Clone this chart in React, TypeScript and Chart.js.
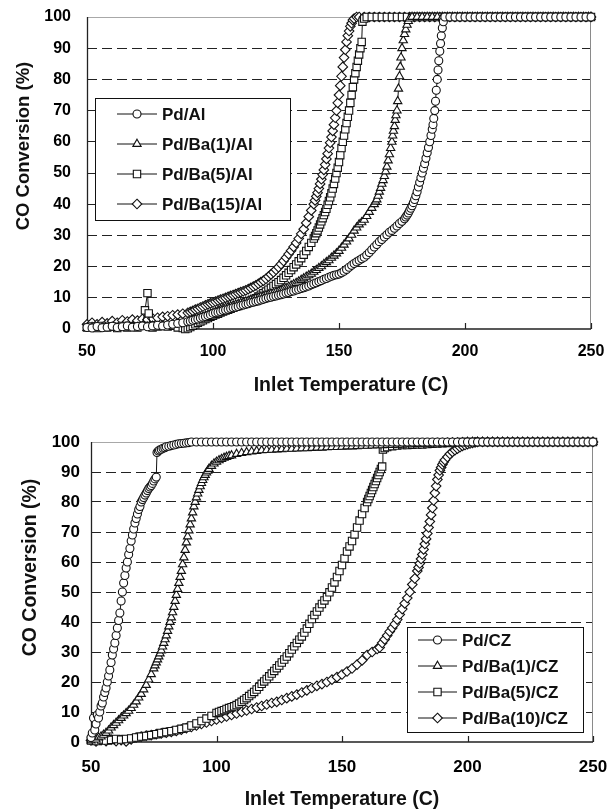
import React, { useEffect, useRef } from "react";
import { Chart, registerables } from "chart.js";

Chart.register(...registerables);

const FONT = "'Liberation Sans', Arial, Helvetica, sans-serif";

type Pt = [number, number];

// ---------- axis / label data ----------
const X_MIN = 50;
const X_MAX = 250;
const X_STEP = 50;
const Y_MIN = 0;
const Y_MAX = 100;
const Y_STEP = 10;
const Y_TITLE = "CO Conversion (%)";
const X_TITLE = "Inlet Temperature (C)";

const alLabels = ["Pd/Al", "Pd/Ba(1)/Al", "Pd/Ba(5)/Al", "Pd/Ba(15)/Al"];
const czLabels = ["Pd/CZ", "Pd/Ba(1)/CZ", "Pd/Ba(5)/CZ", "Pd/Ba(10)/CZ"];

// ---------- top panel: alumina supports ----------
const pdAl: Pt[] = [
  [50, 0.5], [52, 0.3], [54, 0.8], [56, 0.4], [58, 0.6], [60, 0.9], [62, 0.5], [64, 0.7], [66, 1], [68, 0.6],
  [70, 0.8], [72, 1], [74, 0.7], [76, 1], [78, 1.2], [80, 1], [82, 1.3], [84, 1.5], [86, 1.8], [88, 2],
  [90, 2.3], [91, 2.5], [92, 2.8], [93, 3], [94, 3.2], [95, 3.5], [96, 3.8], [97, 4], [98, 4.3], [99, 4.6],
  [100, 5], [101, 5.2], [102, 5.4], [103, 5.6], [104, 5.9], [105, 6.1], [106, 6.3], [107, 6.6], [108, 6.8], [109, 7],
  [110, 7.2], [111, 7.5], [112, 7.7], [113, 7.9], [114, 8.1], [115, 8.4], [116, 8.6], [117, 8.8], [118, 9], [119, 9.3],
  [120, 9.5], [121, 9.8], [122, 10], [123, 10.2], [124, 10.4], [125, 10.6], [126, 10.8], [127, 11], [128, 11.2], [129, 11.5],
  [130, 11.7], [131, 12], [132, 12.2], [133, 12.5], [134, 12.7], [135, 13], [136, 13.2], [137, 13.5], [138, 13.8], [139, 14.2],
  [140, 14.5], [141, 14.8], [142, 15.2], [143, 15.5], [144, 15.9], [145, 16.2], [146, 16.6], [147, 16.9], [148, 17.2], [149, 17.4],
  [150, 17.6], [151, 18], [152, 18.5], [153, 19.1], [154, 19.8], [155, 20.4], [156, 21], [157, 21.5], [158, 22], [159, 22.5],
  [160, 23], [161, 23.7], [162, 24.5], [163, 25.4], [164, 26.3], [165, 27.1], [166, 28], [167, 28.7], [168, 29.5], [169, 30.2],
  [170, 31], [171, 31.6], [172, 32.3], [173, 33], [174, 33.8], [175, 34.5], [176, 35.3], [176.5, 35.9], [177, 36.5], [177.5, 37.2],
  [178, 38], [178.5, 38.7], [179, 39.5], [179.5, 40.5], [180, 41.5], [180.5, 42.7], [181, 44], [181.5, 45.5], [182, 47], [182.5, 48.5],
  [183, 50], [183.5, 51.5], [184, 53], [184.5, 54.7], [185, 56.5], [185.5, 58.2], [186, 60], [186.5, 62], [187, 64], [187.3, 65.5],
  [187.6, 67.5], [188, 70], [188.3, 73], [188.6, 76.5], [189, 80], [189.3, 83], [189.6, 86], [190, 89], [190.3, 91.5], [190.6, 94],
  [191, 96.5], [191.4, 98.5], [192, 100], [194, 100], [196, 100], [198, 100], [200, 100], [202, 100], [204, 100], [206, 100],
  [208, 100], [210, 100], [212, 100], [214, 100], [216, 100], [218, 100], [220, 100], [222, 100], [224, 100], [226, 100],
  [228, 100], [230, 100], [232, 100], [234, 100], [236, 100], [238, 100], [240, 100], [242, 100], [244, 100], [246, 100],
  [248, 100], [250, 100],
];

const pdBa1Al: Pt[] = [
  [50, 0.3], [52, 0.6], [54, 0.2], [56, 0.5], [58, 0.3], [60, 0.6], [62, 0.4], [64, 0.7], [66, 0.5], [68, 0.8],
  [70, 0.6], [72, 0.9], [74, 0.7], [76, 1], [78, 0.8], [80, 1.1], [82, 1], [84, 1.3], [86, 1.5], [88, 1.8],
  [90, 2.2], [91, 2.5], [92, 2.8], [93, 3.1], [94, 3.3], [95, 3.6], [96, 3.9], [97, 4.2], [98, 4.5], [99, 4.8],
  [100, 5.1], [101, 5.5], [102, 5.8], [103, 6.2], [104, 6.5], [105, 6.8], [106, 7], [107, 7.3], [108, 7.5], [109, 7.8],
  [110, 8], [111, 8.3], [112, 8.5], [113, 8.8], [114, 9], [115, 9.3], [116, 9.5], [117, 9.8], [118, 10], [119, 10.3],
  [120, 10.5], [121, 10.8], [122, 11], [123, 11.3], [124, 11.5], [125, 11.8], [126, 12], [127, 12.4], [128, 12.8], [129, 13.1],
  [130, 13.5], [131, 13.9], [132, 14.3], [133, 14.7], [134, 15.2], [135, 15.7], [136, 16.2], [137, 16.7], [138, 17.2], [139, 17.7],
  [140, 18.3], [141, 18.9], [142, 19.5], [143, 20.1], [144, 20.8], [145, 21.4], [146, 22], [147, 22.8], [148, 23.5], [149, 24.2],
  [150, 25], [151, 26], [152, 27], [153, 28], [154, 29], [155, 30.2], [156, 31.5], [157, 32.5], [158, 33.5], [159, 34.2],
  [160, 35], [161, 36.2], [162, 37.5], [163, 38.8], [164, 40], [164.5, 40.8], [165, 41.5], [165.5, 42.7], [166, 44], [166.5, 45.2],
  [167, 46.5], [167.5, 47.7], [168, 49], [168.5, 50.5], [169, 52], [169.5, 54], [170, 56], [170.5, 58], [171, 60], [171.3, 62],
  [171.6, 63.5], [172, 65], [172.3, 67], [172.6, 68.5], [173, 70], [173.3, 73], [173.6, 77], [174, 81], [174.3, 84], [174.6, 87],
  [175, 90], [175.5, 92.5], [176, 94.5], [176.5, 96], [177, 97.5], [177.5, 98.7], [178, 99.5], [179, 100], [181, 100], [183, 100],
  [185, 100], [187, 100], [189, 100], [191, 100], [193, 100], [195, 100], [197, 100], [199, 100], [201, 100], [203, 100],
  [205, 100], [207, 100], [209, 100], [211, 100], [213, 100], [215, 100], [217, 100], [219, 100], [221, 100], [223, 100],
  [225, 100], [227, 100], [229, 100], [231, 100], [233, 100], [235, 100], [237, 100], [239, 100], [241, 100], [243, 100],
  [245, 100], [247, 100], [249, 100], [250, 100],
];

const pdBa5Al: Pt[] = [
  [50, 0.5], [52, 0.8], [54, 0.3], [56, 1], [58, 0.5], [60, 0.8], [62, 0.3], [64, 1], [66, 0.5], [68, 0.8],
  [70, 0.5], [72, 1], [73, 6], [74, 11.5], [74.5, 5], [75, 1], [76, 0.5], [78, 0.8], [80, 1], [82, 0.8],
  [84, 1], [86, 0.5], [88, 0.3], [89, 0], [90, 0.2], [91, 0.6], [92, 1], [93, 1.5], [94, 2], [95, 2.4],
  [96, 2.8], [97, 3.2], [98, 3.5], [99, 3.9], [100, 4.2], [101, 4.6], [102, 4.9], [103, 5.3], [104, 5.6], [105, 5.9],
  [106, 6.2], [107, 6.5], [108, 6.8], [109, 7.1], [110, 7.4], [111, 7.7], [112, 8], [113, 8.3], [114, 8.7], [115, 9],
  [116, 9.4], [117, 9.9], [118, 10.4], [119, 11], [120, 11.5], [121, 12], [122, 12.6], [123, 13.2], [124, 13.8], [125, 14.4],
  [126, 15], [127, 15.7], [128, 16.4], [129, 17.2], [130, 18], [131, 18.9], [132, 19.8], [133, 20.7], [134, 21.7], [135, 22.7],
  [136, 23.8], [137, 25], [138, 26.3], [139, 27.6], [140, 29], [140.5, 29.8], [141, 30.7], [141.5, 31.6], [142, 32.5], [142.5, 33.5],
  [143, 34.5], [143.5, 35.5], [144, 36.5], [144.5, 37.5], [145, 38.5], [145.5, 39.8], [146, 41], [146.5, 42.2], [147, 43.5], [147.5, 45],
  [148, 46.5], [148.5, 48.2], [149, 50], [149.5, 51.7], [150, 53.5], [150.5, 55.7], [151, 58], [151.5, 60], [152, 62], [152.5, 64],
  [153, 66], [153.5, 68], [154, 70], [154.5, 72.5], [155, 75], [155.5, 77.5], [156, 80], [156.5, 82], [157, 84], [157.5, 86],
  [158, 88], [158.5, 90], [159, 92], [159.3, 98.5], [160, 99.5], [161, 100], [163, 100], [165, 100], [167, 100], [169, 100],
  [171, 100], [173, 100], [175, 100], [177, 100], [179, 100], [181, 100], [183, 100], [185, 100], [187, 100], [189, 100],
  [191, 100], [193, 100], [195, 100], [197, 100], [199, 100], [201, 100], [203, 100], [205, 100], [207, 100], [209, 100],
  [211, 100], [213, 100], [215, 100], [217, 100], [219, 100], [221, 100], [223, 100], [225, 100], [227, 100], [229, 100],
  [231, 100], [233, 100], [235, 100], [237, 100], [239, 100], [241, 100], [243, 100], [245, 100], [247, 100], [249, 100],
  [250, 100],
];

const pdBa15Al: Pt[] = [
  [50, 1.5], [52, 2], [54, 1.5], [56, 2.2], [58, 1.8], [60, 2.5], [62, 2], [64, 2.8], [66, 2.4], [68, 3],
  [70, 2.7], [72, 3.2], [74, 3], [76, 3.4], [78, 3.6], [80, 3.9], [82, 4.1], [84, 4.4], [86, 4.6], [88, 4.9],
  [90, 5.2], [91, 5.5], [92, 5.8], [93, 6.2], [94, 6.5], [95, 6.9], [96, 7.2], [97, 7.6], [98, 7.9], [99, 8.2],
  [100, 8.5], [101, 8.8], [102, 9.1], [103, 9.4], [104, 9.7], [105, 10], [106, 10.3], [107, 10.6], [108, 10.9], [109, 11.2],
  [110, 11.5], [111, 11.8], [112, 12.1], [113, 12.4], [114, 12.8], [115, 13.2], [116, 13.6], [117, 14], [118, 14.5], [119, 15],
  [120, 15.5], [121, 16.1], [122, 16.8], [123, 17.5], [124, 18.2], [125, 19], [126, 19.8], [127, 20.8], [128, 21.8], [129, 22.9],
  [130, 24], [131, 25.1], [132, 26.3], [133, 27.6], [134, 29], [135, 30.5], [136, 32], [137, 34], [138, 36], [139, 38],
  [140, 40], [140.5, 41.2], [141, 42.5], [141.5, 43.7], [142, 45], [142.5, 46.5], [143, 48], [143.5, 49.5], [144, 51], [144.5, 52.7],
  [145, 54.5], [145.5, 56.2], [146, 58], [146.5, 59.7], [147, 61.5], [147.5, 63.5], [148, 65.5], [148.5, 67.7], [149, 70], [149.5, 72.5],
  [150, 75], [150.5, 78], [151, 81], [151.5, 84], [152, 87], [152.5, 89.5], [153, 92], [153.5, 94], [154, 95.5], [154.5, 97],
  [155, 98], [155.5, 99], [156, 99.5], [157, 100], [158, 100], [160, 100], [162, 100], [164, 100], [166, 100], [168, 100],
  [170, 100], [172, 100], [174, 100], [176, 100], [178, 100], [180, 100], [182, 100], [184, 100], [186, 100], [188, 100],
  [190, 100], [192, 100], [194, 100], [196, 100], [198, 100], [200, 100], [202, 100], [204, 100], [206, 100], [208, 100],
  [210, 100], [212, 100], [214, 100], [216, 100], [218, 100], [220, 100], [222, 100], [224, 100], [226, 100], [228, 100],
  [230, 100], [232, 100], [234, 100], [236, 100], [238, 100], [240, 100], [242, 100], [244, 100], [246, 100], [248, 100],
  [250, 100],
];

// ---------- bottom panel: ceria-zirconia supports ----------
const pdCZ: Pt[] = [
  [50, 1.5], [50.5, 3], [51, 8], [51.5, 4], [52, 6], [52.5, 9], [53, 8], [53.5, 10], [54, 12], [54.5, 13],
  [55, 15], [55.5, 16.5], [56, 18], [56.5, 20], [57, 22], [57.5, 24], [58, 26.5], [58.5, 29], [59, 31], [59.5, 33],
  [60, 35.5], [60.5, 38], [61, 40.5], [61.5, 43], [62, 47], [62.5, 50], [63, 53], [63.5, 55.5], [64, 58], [64.5, 60],
  [65, 62.5], [65.5, 64.5], [66, 67], [66.5, 69], [67, 71], [67.5, 73], [68, 74.5], [68.5, 76], [69, 77.5], [69.5, 78.5],
  [70, 80], [70.5, 80.8], [71, 81.5], [71.5, 82.3], [72, 83], [72.5, 83.8], [73, 84.5], [73.5, 85], [74, 85.5], [74.5, 86.2],
  [75, 87], [75.5, 87.7], [76, 88.3], [76.3, 96.5], [76.8, 97], [77.3, 97.3], [78, 97.6], [78.7, 97.9], [79.4, 98.1], [80, 98.4],
  [81, 98.6], [82, 98.8], [83, 99], [84, 99.2], [85, 99.4], [86, 99.5], [87, 99.6], [88, 99.7], [89, 99.8], [90, 100],
  [92, 100], [94, 100], [96, 100], [98, 100], [100, 100], [102, 100], [104, 100], [106, 100], [108, 100], [110, 100],
  [112, 100], [114, 100], [116, 100], [118, 100], [120, 100], [122, 100], [124, 100], [126, 100], [128, 100], [130, 100],
  [132, 100], [134, 100], [136, 100], [138, 100], [140, 100], [142, 100], [144, 100], [146, 100], [148, 100], [150, 100],
  [152, 100], [154, 100], [156, 100], [158, 100], [160, 100], [162, 100], [164, 100], [166, 100], [168, 100], [170, 100],
  [172, 100], [174, 100], [176, 100], [178, 100], [180, 100], [182, 100], [184, 100], [186, 100], [188, 100], [190, 100],
  [192, 100], [194, 100], [196, 100], [198, 100], [200, 100], [202, 100], [204, 100], [206, 100], [208, 100], [210, 100],
  [212, 100], [214, 100], [216, 100], [218, 100], [220, 100], [222, 100], [224, 100], [226, 100], [228, 100], [230, 100],
  [232, 100], [234, 100], [236, 100], [238, 100], [240, 100], [242, 100], [244, 100], [246, 100], [248, 100], [250, 100],
];

const pdBa1CZ: Pt[] = [
  [50, 0.5], [51, 1], [52, 0.8], [53, 1.5], [54, 1.8], [55, 2.4], [56, 3], [57, 3.8], [58, 4.8], [59, 5.6],
  [60, 6.4], [61, 7.2], [62, 8], [63, 8.8], [64, 9.6], [65, 10.4], [66, 11.3], [67, 12.4], [68, 13.5], [69, 14.8],
  [70, 16], [71, 17.5], [72, 19], [73, 20.8], [74, 22.6], [75, 24.5], [75.5, 25.5], [76, 26.5], [76.5, 27.5], [77, 28.5],
  [77.5, 29.5], [78, 30.5], [78.5, 31.8], [79, 33], [79.5, 34.2], [80, 35.5], [80.5, 37], [81, 38.5], [81.5, 40], [82, 41.5],
  [82.5, 43.2], [83, 45], [83.5, 47], [84, 49], [84.5, 51], [85, 53], [85.5, 55], [86, 57], [86.5, 59.2], [87, 61.5],
  [87.5, 64], [88, 66.5], [88.5, 68.5], [89, 70.5], [89.5, 72.5], [90, 74.5], [90.5, 76.5], [91, 78.5], [91.5, 80], [92, 81.5],
  [92.5, 82.8], [93, 84], [93.5, 85.2], [94, 86.3], [94.5, 87.3], [95, 88.2], [95.5, 89], [96, 89.8], [96.5, 90.4], [97, 91],
  [98, 92], [99, 92.8], [100, 93.4], [101, 93.9], [102, 94.3], [103, 94.7], [104, 95], [105, 95.3], [106, 95.5], [108, 96],
  [110, 96.3], [112, 96.6], [114, 96.8], [116, 97], [118, 97.2], [120, 97.3], [122, 97.4], [124, 97.5], [126, 97.6], [128, 97.7],
  [130, 97.7], [132, 97.8], [134, 97.9], [136, 97.9], [138, 98], [140, 98.1], [142, 98.1], [144, 98.2], [146, 98.3], [148, 98.3],
  [150, 98.4], [152, 98.5], [154, 98.5], [156, 98.6], [158, 98.7], [160, 98.7], [162, 98.8], [164, 98.9], [166, 98.9], [168, 99],
  [170, 99], [172, 99.1], [174, 99.1], [176, 99.2], [178, 99.2], [180, 99.3], [182, 99.4], [184, 99.4], [186, 99.5], [188, 99.6],
  [190, 99.6], [192, 99.7], [194, 99.8], [196, 99.8], [198, 99.9], [200, 100], [202, 100], [204, 100], [206, 100], [208, 100],
  [210, 100], [212, 100], [214, 100], [216, 100], [218, 100], [220, 100], [222, 100], [224, 100], [226, 100], [228, 100],
  [230, 100], [232, 100], [234, 100], [236, 100], [238, 100], [240, 100], [242, 100], [244, 100], [246, 100], [248, 100],
  [250, 100],
];

const pdBa5CZ: Pt[] = [
  [50, 0.5], [52, 0.3], [54, 0.8], [56, 0.5], [58, 0.7], [60, 1], [62, 0.8], [64, 1], [66, 1.2], [68, 1.5],
  [70, 1.8], [72, 2], [74, 2.3], [76, 2.6], [78, 3], [80, 3.3], [82, 3.6], [84, 4], [86, 4.4], [88, 4.8],
  [90, 5.5], [92, 6.2], [94, 7], [96, 7.8], [98, 8.7], [100, 9.7], [101, 10], [102, 10.3], [103, 10.6], [104, 11],
  [105, 11.3], [106, 11.6], [107, 11.9], [108, 12.3], [109, 12.8], [110, 13.4], [111, 14], [112, 14.6], [113, 15.3], [114, 16],
  [115, 16.7], [116, 17.5], [117, 18.4], [118, 19.4], [119, 20.2], [120, 21], [121, 21.9], [122, 22.8], [123, 23.7], [124, 24.6],
  [125, 25.5], [126, 26.5], [127, 27.5], [128, 28.5], [129, 29.6], [130, 30.8], [131, 31.9], [132, 33], [133, 34.1], [134, 35.2],
  [135, 36.5], [136, 37.8], [137, 39.4], [138, 41], [139, 42.3], [140, 43.5], [141, 44.8], [142, 46], [143, 47.2], [144, 48.3],
  [145, 49.9], [146, 51.5], [147, 53.2], [148, 55], [149, 57], [150, 59], [151, 61.2], [152, 63.5], [153, 65.2], [154, 67],
  [155, 69.2], [156, 71.5], [157, 73.8], [158, 76], [159, 78], [160, 80], [160.5, 81], [161, 82], [161.5, 83], [162, 84],
  [162.5, 85], [163, 86], [163.5, 87], [164, 88], [164.5, 89], [165, 90], [165.5, 91], [166, 91.8], [166.3, 97.5], [167, 98],
  [168, 98.3], [170, 98.6], [172, 98.8], [174, 99], [176, 99], [178, 99.1], [180, 99.2], [182, 99.2], [184, 99.3], [186, 99.4],
  [188, 99.5], [190, 99.6], [192, 99.7], [194, 99.8], [196, 99.9], [198, 100], [200, 100], [202, 100], [204, 100], [206, 100],
  [208, 100], [210, 100], [212, 100], [214, 100], [216, 100], [218, 100], [220, 100], [222, 100], [224, 100], [226, 100],
  [228, 100], [230, 100], [232, 100], [234, 100], [236, 100], [238, 100], [240, 100], [242, 100], [244, 100], [246, 100],
  [248, 100], [250, 100],
];

const pdBa10CZ: Pt[] = [
  [50, 0.5], [52, 0.2], [54, 0.6], [56, 0.3], [58, 0.8], [60, 0.3], [62, 0.6], [64, 0.2], [66, 0.9], [68, 1.5],
  [70, 1.8], [72, 2.1], [74, 2.3], [76, 2.6], [78, 2.9], [80, 3.1], [82, 3.4], [84, 3.7], [86, 4.1], [88, 4.6],
  [90, 5], [92, 5.5], [94, 6], [96, 6.5], [98, 7], [100, 7.5], [102, 8], [104, 8.5], [106, 9], [108, 9.5],
  [110, 10], [112, 10.5], [114, 11], [116, 11.5], [118, 12], [120, 12.5], [122, 13], [124, 13.4], [126, 14], [128, 14.6],
  [130, 15.2], [132, 15.8], [134, 16.5], [136, 17.2], [138, 18], [140, 18.7], [142, 19.3], [144, 20], [146, 20.8], [148, 21.6],
  [150, 22.5], [152, 23.5], [154, 24.5], [156, 25.8], [158, 27.2], [160, 29], [162, 30], [164, 31], [165, 31.5], [166, 33],
  [167, 34.2], [168, 35.5], [169, 36.8], [170, 38], [171, 39.3], [172, 40.8], [173, 42.5], [174, 44.3], [175, 46.2], [176, 48],
  [177, 50], [178, 52.5], [179, 54.5], [180, 57], [180.5, 58.2], [181, 59.5], [181.5, 61], [182, 62.5], [182.5, 64.2], [183, 66],
  [183.5, 67.7], [184, 69.5], [184.5, 71.5], [185, 73.5], [185.5, 75.7], [186, 78], [186.5, 80.5], [187, 83], [187.5, 85.3], [188, 87.5],
  [188.5, 89], [189, 90.5], [189.5, 91.5], [190, 92.5], [190.5, 93.3], [191, 94], [192, 95], [193, 96], [194, 96.7], [195, 97.3],
  [196, 97.8], [197, 98.3], [198, 98.7], [199, 99], [200, 99.3], [201, 99.5], [202, 99.7], [203, 99.9], [204, 100], [206, 100],
  [208, 100], [210, 100], [212, 100], [214, 100], [216, 100], [218, 100], [220, 100], [222, 100], [224, 100], [226, 100],
  [228, 100], [230, 100], [232, 100], [234, 100], [236, 100], [238, 100], [240, 100], [242, 100], [244, 100], [246, 100],
  [248, 100], [250, 100],
];

const alSeries = [pdAl, pdBa1Al, pdBa5Al, pdBa15Al];
const czSeries = [pdCZ, pdBa1CZ, pdBa5CZ, pdBa10CZ];

// ---------- styling ----------
const MARKER_STYLES = ["circle", "triangle", "rect", "rectRot"];
const MARKER_RADII = [4, 4.8, 5.2, 4.8];
const INK = "#111";

function drawMarker(ctx: CanvasRenderingContext2D, style: string, x: number, y: number, r: number) {
  ctx.beginPath();
  if (style === "circle") {
    ctx.arc(x, y, r, 0, Math.PI * 2);
  } else if (style === "triangle") {
    for (let i = 0; i < 3; i++) {
      const a = -Math.PI / 2 + (i * 2 * Math.PI) / 3;
      const px = x + Math.cos(a) * r;
      const py = y + Math.sin(a) * r;
      if (i === 0) ctx.moveTo(px, py);
      else ctx.lineTo(px, py);
    }
    ctx.closePath();
  } else if (style === "rect") {
    const s = r * Math.SQRT1_2;
    ctx.rect(x - s, y - s, 2 * s, 2 * s);
  } else {
    ctx.moveTo(x, y - r);
    ctx.lineTo(x + r, y);
    ctx.lineTo(x, y + r);
    ctx.lineTo(x - r, y);
    ctx.closePath();
  }
  ctx.fillStyle = "#fff";
  ctx.fill();
  ctx.lineWidth = 1.1;
  ctx.strokeStyle = INK;
  ctx.stroke();
}

const decorPlugin = {
  id: "decor",
  beforeDatasetsDraw(chart: any, _args: any, opts: any) {
    const { ctx, chartArea } = chart;
    const { left, right, top, bottom } = chartArea;
    ctx.save();
    ctx.setLineDash([]);
    ctx.lineWidth = 1;
    ctx.strokeStyle = "#a8a8a8";
    ctx.beginPath();
    ctx.moveTo(left, top + 0.5);
    ctx.lineTo(right, top + 0.5);
    ctx.stroke();
    ctx.strokeStyle = "#8a8a8a";
    ctx.beginPath();
    ctx.moveTo(right - 0.5, top);
    ctx.lineTo(right - 0.5, bottom);
    ctx.stroke();
    ctx.strokeStyle = "#222";
    ctx.lineWidth = 1.3;
    ctx.beginPath();
    ctx.moveTo(left + 0.5, top);
    ctx.lineTo(left + 0.5, bottom);
    ctx.lineTo(right, bottom);
    ctx.stroke();
    const xs = chart.scales.x;
    ctx.lineWidth = 1.2;
    xs.ticks.forEach((t: any) => {
      const px = Math.round(xs.getPixelForValue(t.value)) + 0.5;
      ctx.beginPath();
      ctx.moveTo(px, bottom);
      ctx.lineTo(px, bottom - opts.tickLen);
      ctx.stroke();
    });
    ctx.restore();
  },
  afterDatasetsDraw(chart: any, _args: any, opts: any) {
    const { ctx } = chart;
    const lg = opts.legend;
    ctx.save();
    ctx.setLineDash([]);
    ctx.fillStyle = "#fff";
    ctx.fillRect(lg.x, lg.y, lg.w, lg.h);
    ctx.strokeStyle = INK;
    ctx.lineWidth = 1;
    ctx.strokeRect(lg.x + 0.5, lg.y + 0.5, lg.w, lg.h);
    chart.data.datasets.forEach((ds: any, i: number) => {
      const y = lg.rowStart + i * lg.rowStep;
      ctx.strokeStyle = INK;
      ctx.lineWidth = 1;
      ctx.beginPath();
      ctx.moveTo(lg.lineX1, y);
      ctx.lineTo(lg.lineX2, y);
      ctx.stroke();
      drawMarker(ctx, ds.pointStyle, (lg.lineX1 + lg.lineX2) / 2, y, ds.pointRadius);
      ctx.fillStyle = INK;
      ctx.font = `bold ${lg.fontSize}px ${FONT}`;
      ctx.textAlign = "left";
      ctx.textBaseline = "middle";
      ctx.fillText(ds.label, lg.textX, y + 1);
    });
    ctx.restore();
  },
  afterDraw(chart: any, _args: any, opts: any) {
    const { ctx } = chart;
    const t = opts.titles;
    ctx.save();
    ctx.fillStyle = INK;
    ctx.textAlign = "center";
    ctx.textBaseline = "middle";
    ctx.font = `bold ${t.xSize}px ${FONT}`;
    ctx.fillText(X_TITLE, t.xX, t.xY);
    ctx.translate(t.yX, t.yY);
    ctx.rotate(-Math.PI / 2);
    ctx.font = `bold ${t.ySize}px ${FONT}`;
    ctx.fillText(Y_TITLE, 0, 0);
    ctx.restore();
  },
};

type PanelCfg = {
  series: Pt[][];
  labels: string[];
  tickSize: number;
  pad: { top: number; right: number };
  yWidth: number;
  xHeight: number;
  xTickPad: number;
  yTickPad: number;
  legend: any;
  titles: any;
};

function zeroPad(s: any) {
  s.paddingLeft = 0;
  s.paddingRight = 0;
  s.paddingTop = 0;
  s.paddingBottom = 0;
}

function makeConfig(p: PanelCfg): any {
  const tickFont = { family: FONT, size: p.tickSize, weight: "bold" as const };
  return {
    type: "scatter",
    data: {
      datasets: p.series.map((s, i) => ({
        label: p.labels[i],
        data: s.map(([x, y]) => ({ x, y })),
        showLine: true,
        borderColor: INK,
        borderWidth: 1,
        pointStyle: MARKER_STYLES[i],
        pointRadius: MARKER_RADII[i],
        pointBorderWidth: 1.1,
        pointBorderColor: INK,
        pointBackgroundColor: "#fff",
        clip: false,
        tension: 0,
      })),
    },
    options: {
      responsive: false,
      animation: false,
      devicePixelRatio: 1,
      events: [],
      layout: { padding: { left: 0, right: p.pad.right, top: p.pad.top, bottom: 0 } },
      plugins: {
        legend: { display: false },
        tooltip: { enabled: false },
        decor: { tickLen: 6, legend: p.legend, titles: p.titles },
      },
      scales: {
        x: {
          type: "linear",
          min: X_MIN,
          max: X_MAX,
          ticks: { stepSize: X_STEP, padding: p.xTickPad, color: "#000", font: tickFont, maxRotation: 0, autoSkip: false },
          grid: { display: false, drawTicks: false },
          border: { display: false },
          afterFit: (s: any) => {
            s.height = p.xHeight;
            zeroPad(s);
          },
        },
        y: {
          type: "linear",
          min: Y_MIN,
          max: Y_MAX,
          ticks: { stepSize: Y_STEP, padding: p.yTickPad, color: "#000", font: tickFont },
          grid: {
            drawTicks: false,
            lineWidth: 1,
            color: (c: any) =>
              c.tick && c.tick.value > Y_MIN && c.tick.value < Y_MAX ? "#222" : "rgba(0,0,0,0)",
          },
          border: { display: false, dash: [10, 5] },
          afterFit: (s: any) => {
            s.width = p.yWidth;
            zeroPad(s);
          },
        },
      },
    },
    plugins: [decorPlugin],
  };
}

const topCfg: PanelCfg = {
  series: alSeries,
  labels: alLabels,
  tickSize: 16,
  pad: { top: 17, right: 16 },
  yWidth: 87,
  xHeight: 71,
  xTickPad: 13,
  yTickPad: 16,
  legend: { x: 95, y: 98, w: 195, h: 122, rowStart: 114, rowStep: 30, lineX1: 117, lineX2: 157, textX: 162, fontSize: 17 },
  titles: { xX: 351, xY: 386, xSize: 19.5, yX: 24, yY: 146, ySize: 18.5 },
};

const bottomCfg: PanelCfg = {
  series: czSeries,
  labels: czLabels,
  tickSize: 17,
  pad: { top: 42, right: 14 },
  yWidth: 91,
  xHeight: 69,
  xTickPad: 15,
  yTickPad: 11,
  legend: { x: 407, y: 227, w: 176, h: 105, rowStart: 240, rowStep: 26, lineX1: 418, lineX2: 457, textX: 462, fontSize: 17 },
  titles: { xX: 342, xY: 400, xSize: 19.5, yX: 31, yY: 167.5, ySize: 19.5 },
};

function Panel({ cfg, top, height }: { cfg: PanelCfg; top: number; height: number }) {
  const ref = useRef<HTMLCanvasElement | null>(null);
  useEffect(() => {
    if (!ref.current) return;
    const chart = new Chart(ref.current, makeConfig(cfg));
    return () => chart.destroy();
  }, [cfg]);
  return (
    <canvas
      ref={ref}
      width={607}
      height={height}
      style={{ position: "absolute", left: 0, top, width: 607, height, display: "block" }}
    />
  );
}

export default function App() {
  return (
    <div style={{ position: "absolute", left: 0, top: 0, width: 607, height: 811, background: "#fff" }}>
      <Panel cfg={topCfg} top={0} height={400} />
      <Panel cfg={bottomCfg} top={400} height={411} />
    </div>
  );
}
